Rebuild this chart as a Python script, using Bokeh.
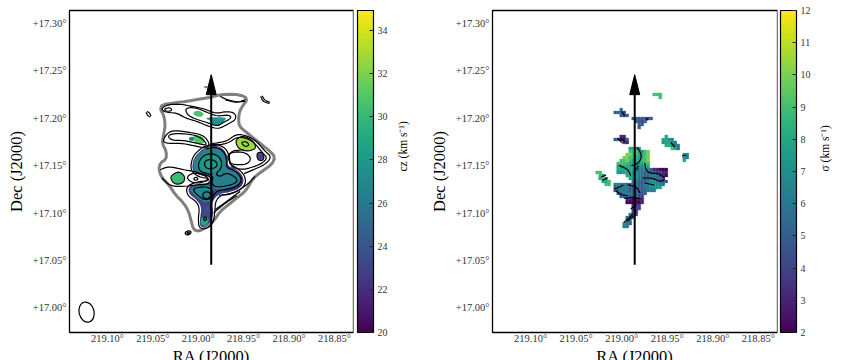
from math import pi
from bokeh.embed import file_html
from bokeh.resources import INLINE
from bokeh.layouts import row
from bokeh.models import ColorBar, FixedTicker, LinearAxis, LinearColorMapper, Range1d
from bokeh.palettes import Viridis256
from bokeh.plotting import figure

# map world coordinate system: image pixel -> sky degrees
CRVAL_RA, CRPIX_X, CDELT_X = 219.00, 204.0, 1 / 2730
CRVAL_DEC, CRPIX_Y, CDELT_Y = 17.15, 288.0, 1 / 2844
RIGHT_PIX_SHIFT = 51  # the sigma raster's x pixel origin

ra_ticks = [219.10, 219.05, 219.00, 218.95, 218.90, 218.85]
dec_ticks = [17.30, 17.25, 17.20, 17.15, 17.10, 17.05, 17.00]
ra_labels = ["219.10°", "219.05°", "219.00°", "218.95°", "218.90°", "218.85°"]
dec_labels = ["+17.30°", "+17.25°", "+17.20°", "+17.15°", "+17.10°", "+17.05°", "+17.00°"]
cz_ticks = [20, 22, 24, 26, 28, 30, 32, 34]
sigma_ticks = [2, 3, 4, 5, 6, 7, 8, 9, 10, 11, 12]
caption_start_dec = 17.117  # the colour bar captions start here and read upward

# outer footprint (image pixels)
outline = [(245,82),(270,75),(310,73),(345,80),(350,92),(340,105),(328,125),(325,150),(328,170),(345,185),(370,205),(395,225),(420,245),(435,262),(425,285),(395,305),(370,325),(358,345),(345,365),(320,385),(295,405),(270,425),(250,455),(225,475),(205,485),(190,480),(183,455),(175,425),(160,400),(135,375),(115,345),(95,325),(85,300),(90,280),(108,268),(108,245),(95,220),(100,195),(105,165),(100,135),(90,120),(95,105),(130,100),(170,95),(210,88),(245,82)]

# velocity field regions: (cz value, polygon)
cz_regions = [
    (23.0, [(225,232),(258,226),(284,240),(294,268),(292,288),(314,296),(336,314),(342,338),(326,358),(297,368),(267,372),(250,390),(246,405),(250,430),(244,457),(222,474),(208,470),(210,440),(214,415),(202,392),(176,374),(174,350),(205,342),(238,340),(246,326),(235,320),(205,316),(184,300),(190,266),(206,248),(225,232)]),
    (21.5, [(292,300),(320,305),(340,330),(335,350),(310,362),(275,366),(300,352),(325,338),(320,320)]),
    (26.5, [(228,236),(258,230),(282,246),(292,272),(288,296),(310,300),(330,316),(336,336),(314,352),(284,358),(258,362),(244,346),(252,328),(240,318),(208,312),(188,300),(192,268),(208,250),(228,236)]),
    (27.0, [(178,356),(210,346),(238,346),(252,362),(250,386),(230,400),(206,388),(186,370),(178,356)]),
    (27.8, [(208,260),(240,246),(266,256),(278,280),(272,304),(245,310),(214,306),(198,288),(208,260)]),
    (28.4, [(222,268),(240,262),(258,270),(262,290),(245,298),(225,296),(222,268)]),
    (26.4, [(262,322),(290,310),(318,324),(318,340),(288,348),(262,346),(262,322)]),
    (28.8, [(214,442),(232,440),(236,458),(222,470),(210,464),(214,442)]),
    (23.5, [(224,405),(240,408),(240,436),(226,442),(218,432),(224,405)]),
    (30.8, [(187,128),(205,122),(222,132),(215,142),(195,140),(187,128)]),
    (27.8, [(230,143),(290,143),(285,150),(275,165),(250,168),(240,152),(228,148),(230,143)]),
    (31.0, [(188,200),(205,195),(222,205),(224,220),(205,224),(190,214),(188,200)]),
    (26.6, [(176,203),(190,200),(192,214),(176,213),(176,203)]),
    (32.8, [(318,208),(340,200),(367,214),(378,233),(355,242),(333,239),(318,225),(318,208)]),
    (23.0, [(381,250),(399,250),(400,270),(383,270),(381,250)]),
    (30.3, [(124,320),(145,304),(164,322),(158,342),(136,344),(124,330),(124,320)]),
]

# integrated intensity contours (image pixels)
contours = [
    [(222,230),(257,222),(288,236),(299,265),(298,284),(320,294),(342,314),(348,340),(330,362),(297,373),(272,376),(256,394),(254,425),(250,458),(230,478),(206,476),(204,445),(208,415),(197,394),(171,378),(168,350),(200,336),(234,334),(236,326),(205,322),(180,302),(186,263),(203,244),(222,230)],
    [(228,238),(258,232),(282,246),(290,272),(288,294),(312,302),(330,318),(334,336),(316,352),(285,360),(262,362),(248,380),(242,405),(244,430)],
    [(222,275),(240,268),(258,275),(262,290),(245,298),(225,295),(222,275)],
    [(203,280),(222,254),(255,252),(274,270),(274,296),(256,312),(268,322),(290,308),(320,325),(320,340),(285,350),(255,352),(243,340),(250,322),(235,312),(208,306),(203,280)],
    [(185,358),(210,352),(235,352),(250,365),(245,385),(225,392),(205,380),(185,358)],
    [(216,372),(230,364),(244,375),(235,387),(220,386),(216,372)],
    [(222,440),(230,445),(228,452),(220,452),(222,440)],
    [(92,118),(110,105),(150,103),(185,110),(225,118),(255,132),(290,125),(315,130),(318,150),(290,165),(265,178),(235,170),(200,155),(165,145),(140,130),(105,128),(92,118)],
    [(165,115),(195,113),(230,128),(262,140),(295,135),(305,145),(280,158),(262,170),(235,160),(195,148),(170,135),(165,115)],
    [(120,113),(126,122),(110,126),(100,118),(120,113)],
    [(270,80),(290,90),(320,97),(345,95)],
    [(285,90),(320,100),(345,90)],
    [(95,215),(115,185),(145,183),(190,190),(222,198),(240,225),(225,235),(190,228),(150,220),(115,222),(95,215)],
    [(112,200),(125,192),(165,192),(195,197),(218,208),(232,228),(205,222),(160,212),(125,212),(112,200)],
    [(245,222),(290,215),(315,195),(340,195),(375,210),(405,245),(425,262),(405,285),(370,300),(342,312)],
    [(246,228),(292,222),(320,202),(345,204),(372,218),(398,250),(412,265),(395,282),(360,295),(335,300),(300,292),(295,245),(340,240)],
    [(290,250),(340,245),(365,265),(350,285),(315,285),(298,280),(290,250)],
    [(318,208),(340,198),(368,212),(380,235),(355,245),(330,240),(318,225),(318,208)],
    [(332,218),(348,215),(358,226),(345,232),(332,218)],
    [(380,248),(400,248),(402,272),(382,272),(380,248)],
    [(90,300),(115,290),(160,300),(190,305),(245,320),(235,345),(200,345),(170,350),(120,350),(95,325)],
    [(172,318),(195,308),(235,322),(228,335),(195,342),(172,330),(172,318)],
    [(190,325),(200,322),(204,330),(192,332),(190,325)],
    [(122,318),(145,304),(165,320),(160,340),(135,345),(122,330),(122,318)],
    [(265,376),(300,376),(350,347),(375,320)],
    [(255,420),(290,395),(330,365)],
    [(250,430),(285,400),(320,378)],
    [(50,125),(58,130),(62,140)],
    [(47,128),(52,138),(60,142)],
    [(392,80),(398,95),(418,102)],
    [(396,78),(404,92),(420,98)],
    [(162,490),(175,482),(185,488),(172,498),(162,490)],
    [(170,489),(176,487),(178,491),(171,493),(170,489)],
]

beam_ra, beam_dec, beam_major, beam_minor, beam_angle = 219.1230, 16.9955, 0.0215, 0.0165, 0.25

arrow_x, arrow_y0, arrow_y1 = 243, 585, 70
tick_mark = [(222,52),(232,52)]

# sigma map, (row, first column, values; a = 10, space = empty cell)
sigma_rows = [
    (0, 19, "999"), (1, 21, "9"),
    (5, 8, "6"), (6, 6, "5564"), (7, 8, "545"), (8, 12, "5555545"), (9, 13, "5545"), (10, 14, "55"), (11, 14, "5"),
    (14, 8, "33"), (15, 6, "55325"), (16, 9, "43"),
    (14, 23, "8"), (15, 22, "8877"), (16, 22, "78876"), (17, 23, "88766"), (18, 25, "986"),
    (20, 29, "87"), (21, 29, "76"), (22, 29, "8"),
    (18, 11, "8887"),
    (19, 11, "999879a"),
    (20, 10, "aa99889a"),
    (21, 9, "aa998889a"),
    (22, 8, "99a988899a"),
    (23, 7, "99998877899"),
    (24, 7, "88888877788"),
    (25, 7, "88888876677533222"),
    (26, 0, "99     77888776655554433"),
    (27, 1, "98       88776655665432"),
    (28, 1, "898       877665566654"),
    (29, 2, "889       665556776655"),
    (30, 3, "99 66665555556677766"),
    (31, 6, "5666655555667778"),
    (32, 6, "55666555555666"),
    (33, 7, "5566655555"),
    (34, 8, "55655544"),
    (35, 10, "332233"),
    (36, 10, "222223"),
    (37, 12, "334"),
    (38, 12, "444"),
    (39, 12, "43"),
    (40, 11, "654"),
    (41, 10, "665"),
    (42, 10, "66"),
    (43, 9, "765"),
    (44, 9, "66"),
]
CELL_W, CELL_H, RASTER_X0, RASTER_Y0 = 9, 9, 75, 70

# contour fragments over sigma map (raster pixels)
sigma_contours = [
    [(198,233),(210,248),(212,268),(198,284),(182,288)],
    [(145,287),(158,293),(172,300),(180,318)],
    [(222,280),(225,300),(240,312),(262,310),(282,325)],
    [(215,325),(245,325),(268,336),(282,330)],
    [(222,340),(250,346)],
    [(198,302),(202,288)],
    [(132,358),(150,350),(158,346)],
    [(172,345),(198,352),(208,370)],
    [(160,386),(185,382),(210,388)],
    [(135,362),(150,375),(172,378)],
    [(160,458),(178,442),(186,432)],
    [(170,455),(188,438)],
    [(180,418),(190,410),(192,430)],
    [(150,205),(162,218)],
    [(140,205),(155,220)],
    [(300,218),(312,232)],
    [(92,322),(106,316)],
    [(95,332),(110,325)],
    [(152,125),(162,138)],
    [(225,145),(232,152)],
    [(334,258),(346,256)],
]


def to_ra(px):
    return [CRVAL_RA - (x - CRPIX_X) * CDELT_X for x in px]


def to_dec(py):
    return [CRVAL_DEC - (y - CRPIX_Y) * CDELT_Y for y in py]


def smooth(poly, rounds=2):
    """Round the corners of a traced contour (corner cutting)."""
    pts = list(poly)
    closed = pts[0] == pts[-1]
    for _ in range(rounds):
        out = [pts[0]] if not closed else []
        for a, b in zip(pts[:-1], pts[1:]):
            out.append((0.75 * a[0] + 0.25 * b[0], 0.75 * a[1] + 0.25 * b[1]))
            out.append((0.25 * a[0] + 0.75 * b[0], 0.25 * a[1] + 0.75 * b[1]))
        out.append(out[0] if closed else pts[-1])
        pts = out
    return pts


def xy(poly, shift=0):
    return to_ra([p[0] + shift for p in poly]), to_dec([p[1] for p in poly])


def make_axes(frame_w, right_border):
    p = figure(frame_width=frame_w, frame_height=322, output_backend="svg", toolbar_location=None,
               x_range=Range1d(219.1418, 218.829), y_range=Range1d(16.974, 17.3137),
               min_border_left=69, min_border_right=right_border, min_border_top=10, min_border_bottom=28,
               background_fill_color="white", border_fill_color="white")
    p.grid.visible = False
    p.outline_line_color = "black"
    p.outline_line_width = 1.3
    for ax, ticks, labels, text in ((p.xaxis[0], ra_ticks, ra_labels, "RA (J2000)"), (p.yaxis[0], dec_ticks, dec_labels, "Dec (J2000)")):
        ax.ticker = FixedTicker(ticks=ticks)
        ax.major_label_overrides = dict(zip(ticks, labels))
        ax.major_tick_out = 0
        ax.major_tick_in = 0
        ax.minor_tick_out = 0
        ax.minor_tick_in = 0
        ax.major_tick_line_color = None
        ax.minor_tick_line_color = None
        ax.axis_line_color = None
        ax.major_label_text_font = "Liberation Serif"
        ax.major_label_text_font_size = "10.5px"
        ax.major_label_text_color = "#333333"
        ax.axis_label = text
        ax.axis_label_text_font = "Liberation Serif"
        ax.axis_label_text_font_style = "normal"
        ax.axis_label_text_font_size = "16.5px"
        ax.axis_label_text_color = "black"
    p.xaxis[0].major_label_standoff = 0
    p.xaxis[0].axis_label_standoff = 0
    p.yaxis[0].major_label_standoff = 3
    p.yaxis[0].axis_label_standoff = 4
    return p


def add_arrow(p):
    p.line(to_ra([arrow_x, arrow_x]), to_dec([arrow_y0, arrow_y1]), line_color="black", line_width=2)
    hx, hy = xy([(arrow_x - 15, 75), (arrow_x, 15), (arrow_x + 15, 75)])
    p.patch(hx, hy, fill_color="black", line_color="black")


def add_colorbar(p, mapper, ticks, text, padding):
    cb = ColorBar(color_mapper=mapper, width=16, height=322, padding=padding, margin=0,
                  location=(0, -padding), ticker=FixedTicker(ticks=ticks),
                  major_tick_line_color="#222222", major_tick_in=4, major_tick_out=0,
                  bar_line_color="black", bar_line_width=1.2, label_standoff=4,
                  major_label_text_font="Liberation Serif", major_label_text_font_size="10px",
                  major_label_text_color="#333333")
    p.add_layout(cb, "right")
    cap = LinearAxis(axis_label=text, ticker=FixedTicker(ticks=[]), axis_line_color=None,
                     major_tick_line_color=None, minor_tick_line_color=None,
                     major_tick_in=0, major_tick_out=0, minor_tick_in=0, minor_tick_out=0,
                     major_label_standoff=0, axis_label_standoff=8,
                     bounds=(caption_start_dec - 0.05, caption_start_dec + 0.05),
                     axis_label_text_font="Liberation Serif", axis_label_text_font_style="normal",
                     axis_label_text_font_size="11.5px", axis_label_text_color="black",
                     axis_label_orientation=pi / 2)
    p.add_layout(cap, "right")


viridis = list(Viridis256)

# left panel
p1 = make_axes(284, 70)
cz_mapper = LinearColorMapper(palette=viridis, low=20, high=34.93)
for val, poly in cz_regions:
    hx, hy = xy(smooth(poly))
    p1.patch(hx, hy, fill_color=viridis[int((val - 20) / 14.93 * 255)], line_color=None)
ox, oy = xy(smooth(outline, 1))
p1.line(ox, oy, line_color="#808080", line_width=3, line_join="round")
cl = [xy(smooth(c)) for c in contours]
p1.multi_line([c[0] for c in cl], [c[1] for c in cl], line_color="black", line_width=1.2)
p1.ellipse(x=[beam_ra], y=[beam_dec], width=[beam_minor], height=[beam_major], angle=[beam_angle],
           fill_color=None, line_color="black", line_width=1.2)
tx, ty = xy(tick_mark)
p1.line(tx, ty, line_color="black", line_width=1)
add_arrow(p1)
add_colorbar(p1, cz_mapper, cz_ticks, "cz (km s⁻¹)", 4)

# right panel
p2 = make_axes(285, 60)
sigma_mapper = LinearColorMapper(palette=viridis, low=2, high=12)
cell_x, cell_y, cell_v = [], [], []
for r, c0, vals in sigma_rows:
    for i, ch in enumerate(vals):
        if ch == " ":
            continue
        cell_x.append(RASTER_X0 + (c0 + i) * CELL_W)
        cell_y.append(RASTER_Y0 + r * CELL_H)
        cell_v.append(10.0 if ch == "a" else float(ch))
lefts = to_ra([x + RIGHT_PIX_SHIFT for x in cell_x])
rights = to_ra([x + CELL_W + RIGHT_PIX_SHIFT for x in cell_x])
tops = to_dec(cell_y)
bottoms = to_dec([y + CELL_H for y in cell_y])
cell_colors = [viridis[min(255, int((v - 2) / 10 * 255))] for v in cell_v]
p2.quad(left=lefts, right=rights, top=tops, bottom=bottoms,
        fill_color=cell_colors, line_color=cell_colors, line_width=0.3)
sl = [xy(smooth(c), RIGHT_PIX_SHIFT) for c in sigma_contours]
p2.multi_line([c[0] for c in sl], [c[1] for c in sl], line_color="black", line_width=1.2)
add_arrow(p2)
add_colorbar(p2, sigma_mapper, sigma_ticks, "σ (km s⁻¹)", 3)

layout = row(p1, p2, spacing=0)
open("out.html", "w").write(file_html(layout, INLINE))
